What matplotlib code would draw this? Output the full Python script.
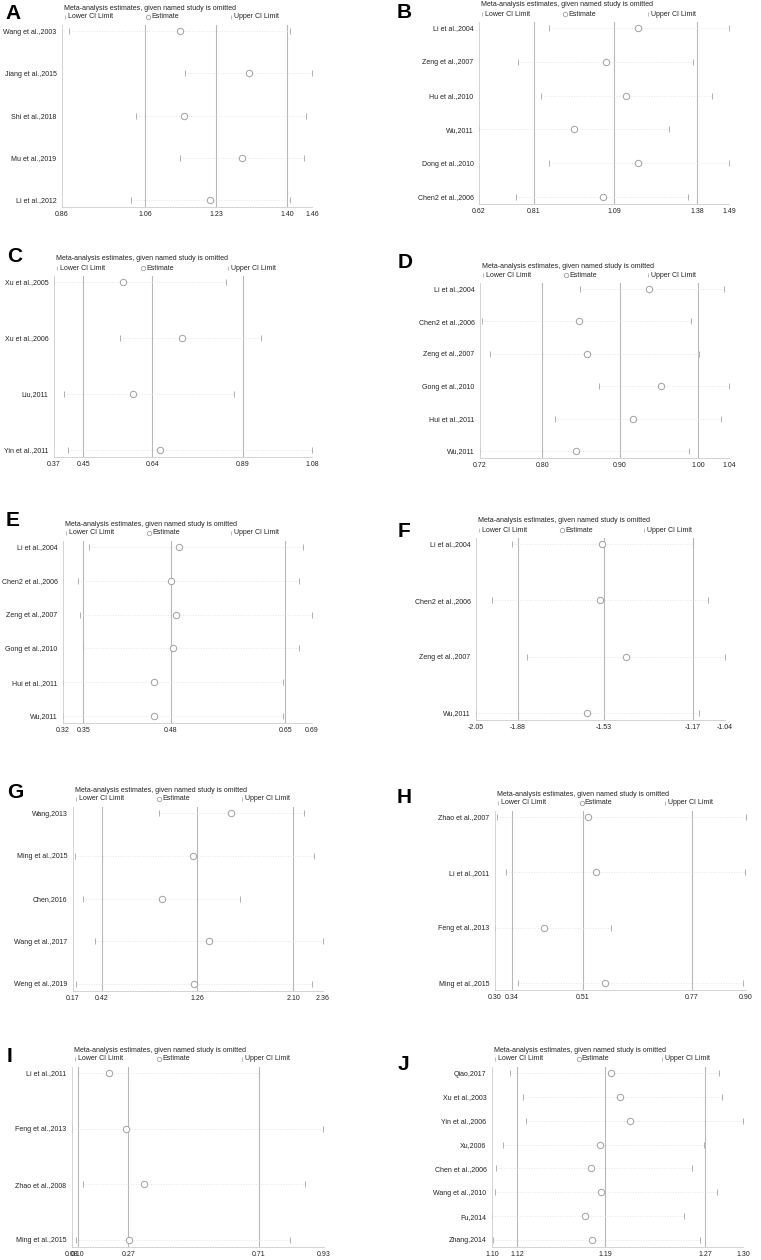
import matplotlib
matplotlib.use('Agg')
import matplotlib.pyplot as plt

plt.rcParams['font.family'] = ['Liberation Sans', 'DejaVu Sans']

# ---------------- data ----------------
studies_A = ["Wang et al.,2003", "Jiang et al.,2015", "Shi et al.,2018", "Mu et al.,2019", "Li et al.,2012"]
lower_A = [0.876, 1.156, 1.037, 1.143, 1.025]
est_A = [1.142, 1.308, 1.152, 1.292, 1.216]
upper_A = [1.408, 1.460, 1.446, 1.441, 1.408]
ticks_A = [0.86, 1.06, 1.23, 1.40, 1.46]

studies_B = ["Li et al.,2004", "Zeng et al.,2007", "Hu et al.,2010", "Wu,2011", "Dong et al.,2010", "Chen2 et al.,2006"]
lower_B = [0.863, 0.755, 0.835, 0.620, 0.863, 0.750]
est_B = [1.175, 1.061, 1.131, 0.951, 1.175, 1.050]
upper_B = [1.490, 1.366, 1.430, 1.282, 1.490, 1.349]
ticks_B = [0.62, 0.81, 1.09, 1.38, 1.49]

studies_C = ["Xu et al.,2005", "Xu et al.,2006", "Liu,2011", "Yin et al.,2011"]
lower_C = [0.370, 0.553, 0.398, 0.408]
est_C = [0.559, 0.721, 0.588, 0.662]
upper_C = [0.842, 0.941, 0.866, 1.080]
ticks_C = [0.37, 0.45, 0.64, 0.89, 1.08]

studies_D = ["Li et al.,2004", "Chen2 et al.,2006", "Zeng et al.,2007", "Gong et al.,2010", "Hui et al.,2011", "Wu,2011"]
lower_D = [0.849, 0.723, 0.733, 0.873, 0.816, 0.720]
est_D = [0.937, 0.847, 0.857, 0.953, 0.917, 0.843]
upper_D = [1.034, 0.991, 1.001, 1.040, 1.030, 0.989]
ticks_D = [0.72, 0.80, 0.90, 1.00, 1.04]

studies_E = ["Li et al.,2004", "Chen2 et al.,2006", "Zeng et al.,2007", "Gong et al.,2010", "Hui et al.,2011", "Wu,2011"]
lower_E = [0.358, 0.343, 0.345, 0.350, 0.320, 0.320]
est_E = [0.492, 0.480, 0.488, 0.484, 0.455, 0.455]
upper_E = [0.676, 0.671, 0.690, 0.671, 0.647, 0.647]
ticks_E = [0.32, 0.35, 0.48, 0.65, 0.69]

studies_F = ["Li et al.,2004", "Chen2 et al.,2006", "Zeng et al.,2007", "Wu,2011"]
lower_F = [-1.904, -1.985, -1.843, -2.050]
est_F = [-1.540, -1.548, -1.441, -1.600]
upper_F = [-1.171, -1.108, -1.040, -1.145]
ticks_F = [-2.05, -1.88, -1.53, -1.17, -1.04]

studies_G = ["Wang,2013", "Ming et al.,2015", "Chen,2016", "Wang et al.,2017", "Weng et al.,2019"]
lower_G = [0.923, 0.190, 0.258, 0.360, 0.193]
est_G = [1.557, 1.221, 0.947, 1.361, 1.230]
upper_G = [2.193, 2.281, 1.636, 2.360, 2.266]
ticks_G = [0.17, 0.42, 1.26, 2.10, 2.36]

studies_H = ["Zhao et al.,2007", "Li et al.,2011", "Feng et al.,2013", "Ming et al.,2015"]
lower_H = [0.304, 0.327, 0.300, 0.354]
est_H = [0.523, 0.542, 0.416, 0.562]
upper_H = [0.900, 0.898, 0.577, 0.892]
ticks_H = [0.30, 0.34, 0.51, 0.77, 0.90]

studies_I = ["Li et al.,2011", "Feng et al.,2013", "Zhao et al.,2008", "Ming et al.,2015"]
lower_I = [0.100, 0.080, 0.117, 0.092]
est_I = [0.206, 0.261, 0.323, 0.273]
upper_I = [0.710, 0.927, 0.866, 0.815]
ticks_I = [0.08, 0.10, 0.27, 0.71, 0.93]

studies_J = ["Qiao,2017", "Xu et al.,2003", "Yin et al.,2006", "Xu,2006", "Chen et al.,2006",
             "Wang et al.,2010", "Fu,2014", "Zhang,2014"]
lower_J = [1.114, 1.125, 1.127, 1.109, 1.103, 1.102, 1.100, 1.101]
est_J = [1.195, 1.202, 1.210, 1.186, 1.179, 1.187, 1.174, 1.180]
upper_J = [1.281, 1.283, 1.300, 1.269, 1.259, 1.279, 1.253, 1.266]
ticks_J = [1.10, 1.12, 1.19, 1.27, 1.30]

panels = [
    ("A", studies_A, lower_A, est_A, upper_A, ticks_A),
    ("B", studies_B, lower_B, est_B, upper_B, ticks_B),
    ("C", studies_C, lower_C, est_C, upper_C, ticks_C),
    ("D", studies_D, lower_D, est_D, upper_D, ticks_D),
    ("E", studies_E, lower_E, est_E, upper_E, ticks_E),
    ("F", studies_F, lower_F, est_F, upper_F, ticks_F),
    ("G", studies_G, lower_G, est_G, upper_G, ticks_G),
    ("H", studies_H, lower_H, est_H, upper_H, ticks_H),
    ("I", studies_I, lower_I, est_I, upper_I, ticks_I),
    ("J", studies_J, lower_J, est_J, upper_J, ticks_J),
]

title_text = "Meta-analysis estimates, given named study is omitted"

# ---------------- layout (pixels) ----------------
W, H = 761, 1260
rects = {
    "A": (62, 312, 25, 207), "B": (479, 729, 22, 204),
    "C": (54, 312, 276, 457), "D": (480, 729, 283, 458),
    "E": (63, 312, 541, 723), "F": (476, 725, 538, 720),
    "G": (73, 323, 807, 991), "H": (495, 746, 811, 990),
    "I": (72, 324, 1067, 1247), "J": (492, 743, 1067, 1247),
}
letters = {
    "A": (5, 4), "B": (397, 3), "C": (7, 247), "D": (398, 253), "E": (6, 511),
    "F": (398, 522), "G": (7, 783), "H": (397, 788), "I": (7, 1047), "J": (398, 1055),
}

fig = plt.figure(figsize=(W / 100, H / 100), dpi=100)
fig.patch.set_facecolor('white')

line_col = '#b8b8b8'
mark_col = '#b0b0b0'
circ_col = '#a0a0a0'
txt_col = '#222222'
fs = 5.0

for letter, studies, lo, es, up, ticks in panels:
    l, r, t, b = rects[letter]
    ax = fig.add_axes([l / W, 1 - b / H, (r - l) / W, (b - t) / H])
    n = len(studies)
    hpx = b - t
    d = (hpx - 13) / (n - 1)
    ys = list(range(n))
    ax.set_ylim((n - 1) + 7 / d, -6 / d)
    ax.set_xlim(ticks[0], ticks[-1])

    for xv in ticks[1:4]:
        ax.axvline(xv, color=line_col, lw=0.8, zorder=1)
    for y, a, c in zip(ys, lo, up):
        ax.plot([a, c], [y, y], ls=(0, (1, 2)), color='#dcdcdc', lw=0.6, zorder=1)
    ax.plot(lo, ys, ls='none', marker='|', ms=4, mew=0.7, color=mark_col, zorder=2, clip_on=False)
    ax.plot(up, ys, ls='none', marker='|', ms=4, mew=0.7, color=mark_col, zorder=2, clip_on=False)
    ax.plot(es, ys, ls='none', marker='o', ms=4.6, mfc='white', mec=circ_col, mew=0.7, zorder=3, clip_on=False)

    ax.set_yticks(ys)
    ax.set_yticklabels(studies, fontsize=fs, color=txt_col)
    ax.set_xticks(ticks)
    ax.set_xticklabels([f"{v:.2f}" for v in ticks], fontsize=fs, color=txt_col)
    ax.tick_params(axis='both', length=0)
    ax.tick_params(axis='y', pad=4)
    ax.tick_params(axis='x', pad=3)
    for s in ['top', 'right']:
        ax.spines[s].set_visible(False)
    for s in ['left', 'bottom']:
        ax.spines[s].set_color('#cccccc')
        ax.spines[s].set_linewidth(0.6)

    fig.text((l + 2) / W, 1 - (t - 17) / H, title_text, fontsize=fs, color=txt_col,
             ha='left', va='center')
    ly = 1 + 8 / hpx
    ax.plot([3 / (r - l)], [ly], transform=ax.transAxes, marker='|', ms=3.5, mew=0.6,
            color=mark_col, clip_on=False)
    ax.text(6 / (r - l), ly, "Lower CI Limit", transform=ax.transAxes, fontsize=fs,
            color=txt_col, ha='left', va='center')
    ax.plot([0.345], [ly], transform=ax.transAxes, marker='o', ms=3.2, mfc='white',
            mec=circ_col, mew=0.6, clip_on=False)
    ax.text(0.345 + 3 / (r - l), ly, "Estimate", transform=ax.transAxes, fontsize=fs,
            color=txt_col, ha='left', va='center')
    ax.plot([0.676], [ly], transform=ax.transAxes, marker='|', ms=3.5, mew=0.6,
            color=mark_col, clip_on=False)
    ax.text(0.676 + 3 / (r - l), ly, "Upper CI Limit", transform=ax.transAxes, fontsize=fs,
            color=txt_col, ha='left', va='center')

    lx, lyy = letters[letter]
    fig.text(lx / W, 1 - lyy / H, letter, fontsize=15, fontweight='bold', color='black',
             ha='left', va='top')

fig.savefig('out.png', dpi=100, facecolor='white')
